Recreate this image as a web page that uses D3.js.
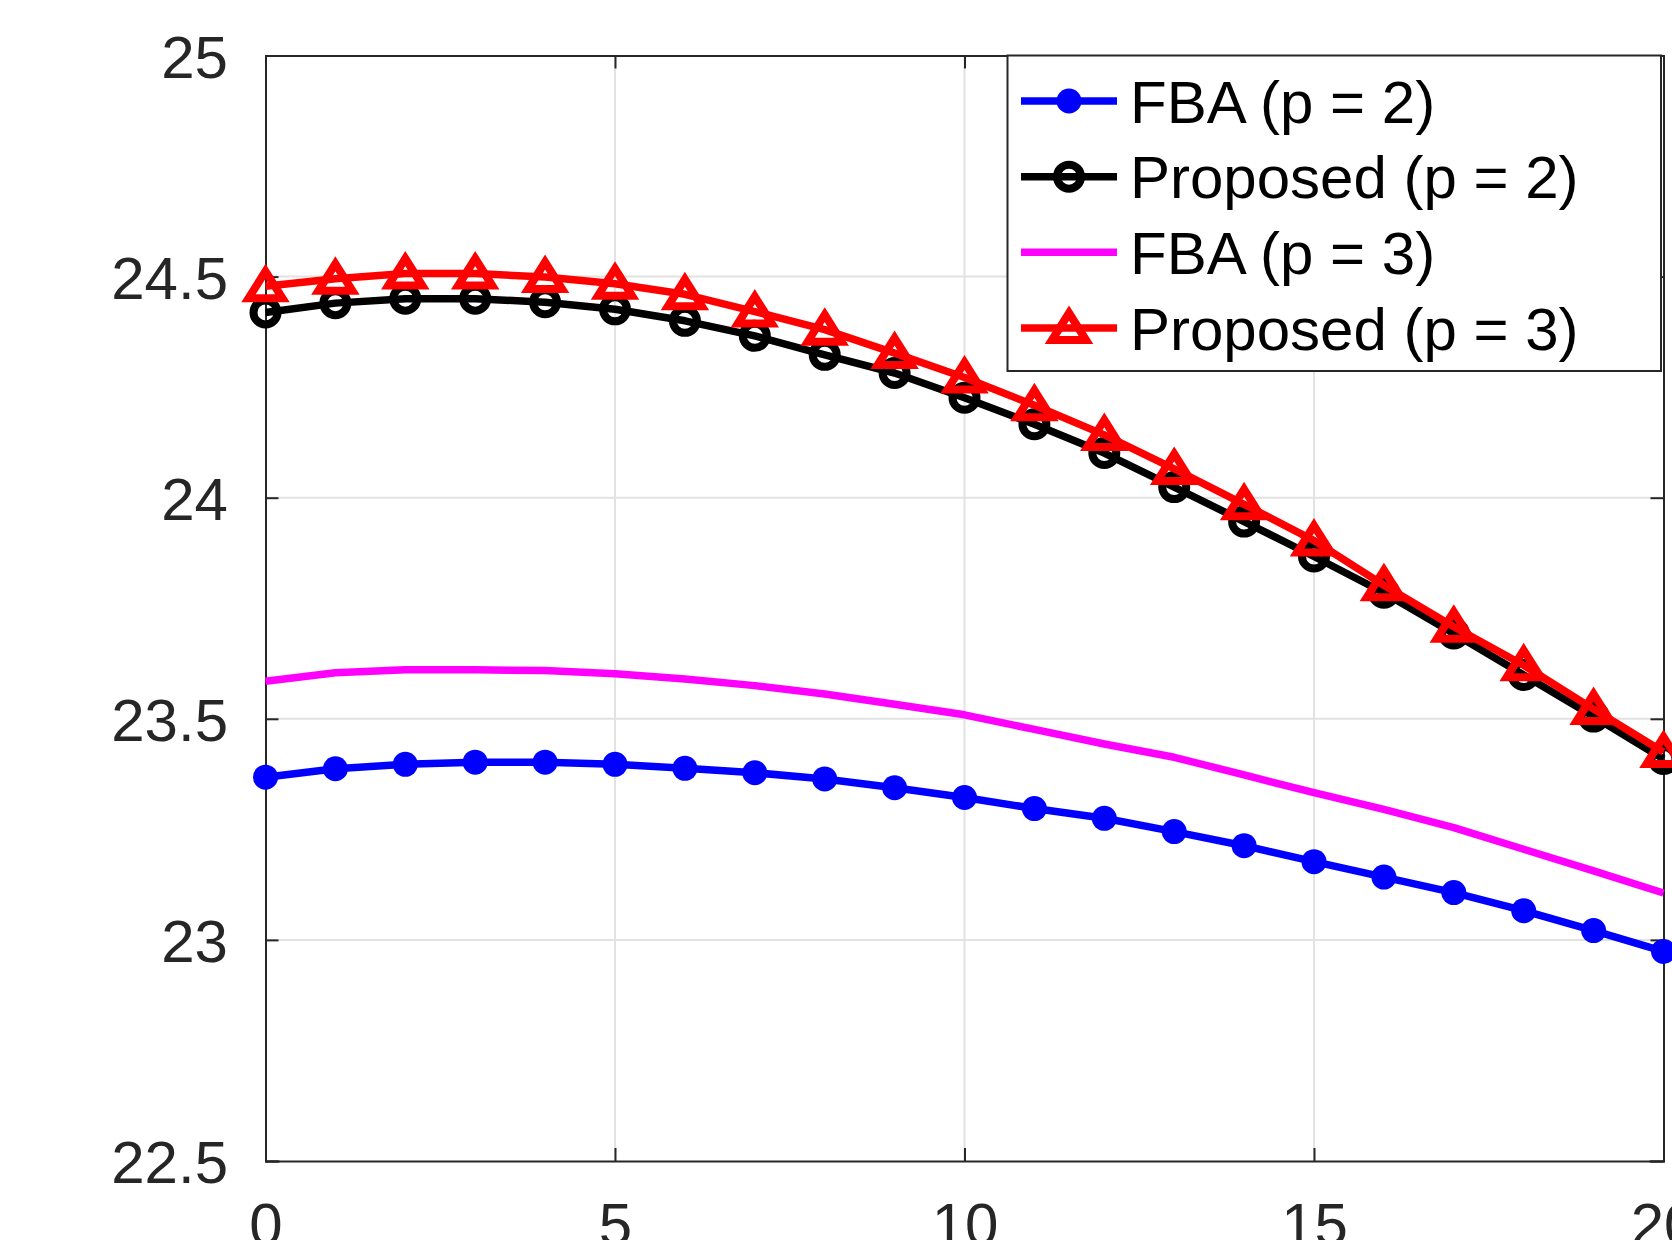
<!DOCTYPE html>
<html>
<head>
<meta charset="utf-8">
<script src="https://cdn.jsdelivr.net/npm/d3@7"></script>
<style>
  html, body { margin: 0; padding: 0; background: #fff; }
  svg { display: block; font-family: "Liberation Sans", Arial, Helvetica, sans-serif; }
</style>
</head>
<body>
<div id="chart"></div>
<script>
// values
const xValues = d3.range(0, 21)

const fbaP2 = [23.368, 23.387, 23.397, 23.402, 23.402, 23.397, 23.388, 23.378, 23.364, 23.344,
  23.322, 23.297, 23.275, 23.245, 23.213, 23.177, 23.142, 23.107, 23.066, 23.021, 22.974]

const proposedP2 = [24.419, 24.440, 24.450, 24.450, 24.442, 24.426, 24.400, 24.366, 24.323, 24.282,
  24.226, 24.166, 24.101, 24.024, 23.946, 23.867, 23.785, 23.693, 23.599, 23.505, 23.409]

const fbaP3 = [23.585, 23.604, 23.611, 23.611, 23.609, 23.602, 23.590, 23.575, 23.556, 23.533,
  23.509, 23.476, 23.443, 23.413, 23.373, 23.333, 23.295, 23.254, 23.205, 23.156, 23.106]

const proposedP3 = [24.478, 24.495, 24.507, 24.507, 24.499, 24.484, 24.460, 24.421, 24.380, 24.327,
  24.272, 24.209, 24.142, 24.065, 23.985, 23.903, 23.802, 23.708, 23.621, 23.522, 23.425]

const xTicks = [0, 5, 10, 15, 20]
const yTicks = [22.5, 23, 23.5, 24, 24.5, 25]

const seriesNames = ["FBA (p = 2)", "Proposed (p = 2)", "FBA (p = 3)", "Proposed (p = 3)"]

const width = 1672
const height = 1240
const margin = { left: 265.5, right: 1663.5, top: 55.5, bottom: 1161 }
const axisColor = "#262626"
const lineWidth = 7.5

const series = [
  { name: seriesNames[0], values: fbaP2, color: "#0000ff", marker: "dot" },
  { name: seriesNames[1], values: proposedP2, color: "#000000", marker: "circle" },
  { name: seriesNames[2], values: fbaP3, color: "#ff00ff", marker: "none" },
  { name: seriesNames[3], values: proposedP3, color: "#ff0000", marker: "triangle" }
]

const x = d3.scaleLinear().domain([0, 20]).range([margin.left, margin.right])
const y = d3.scaleLinear().domain([22.5, 25]).range([margin.bottom, margin.top])

const svg = d3.select("#chart")
  .append("svg")
  .attr("width", width)
  .attr("height", height)

svg.append("rect")
  .attr("width", width)
  .attr("height", height)
  .attr("fill", "#fff")

// grid
const grid = svg.append("g").attr("class", "grid")
grid.selectAll("line.gx")
  .data(xTicks.slice(1, -1))
  .join("line")
  .attr("class", "gx")
  .attr("x1", d => x(d)).attr("x2", d => x(d))
  .attr("y1", margin.top).attr("y2", margin.bottom)
  .attr("stroke", "#e2e2e2")
  .attr("stroke-width", 2)
grid.selectAll("line.gy")
  .data(yTicks.slice(1, -1))
  .join("line")
  .attr("class", "gy")
  .attr("x1", margin.left).attr("x2", margin.right)
  .attr("y1", d => y(d)).attr("y2", d => y(d))
  .attr("stroke", "#e2e2e2")
  .attr("stroke-width", 2)

// axes (box with inward ticks, matlab style)
const bottomAxis = d3.axisBottom(x).tickValues(xTicks).tickSize(-13).tickFormat(d3.format("d"))
const topAxis = d3.axisTop(x).tickValues(xTicks).tickSize(-13).tickFormat("")
const leftAxis = d3.axisLeft(y).tickValues(yTicks).tickSize(-13).tickFormat(d3.format("~g"))
const rightAxis = d3.axisRight(y).tickValues(yTicks).tickSize(-13).tickFormat("")

function styleAxis(g) {
  g.select(".domain").attr("stroke", axisColor).attr("stroke-width", 2)
  g.selectAll(".tick line").attr("stroke", axisColor).attr("stroke-width", 2)
  g.selectAll(".tick text")
    .attr("fill", axisColor)
    .attr("font-size", 60)
    .attr("font-family", "Liberation Sans, Arial, sans-serif")
}

svg.append("g")
  .attr("transform", `translate(0,${margin.bottom})`)
  .call(bottomAxis)
  .call(styleAxis)
  .call(g => g.selectAll(".tick text").attr("dy", null).attr("y", 84))

svg.append("g")
  .attr("transform", `translate(0,${margin.top})`)
  .call(topAxis)
  .call(styleAxis)

svg.append("g")
  .attr("transform", `translate(${margin.left},0)`)
  .call(leftAxis)
  .call(styleAxis)
  .call(g => g.selectAll(".tick text").attr("x", -37.5).attr("dy", "0.36em"))

svg.append("g")
  .attr("transform", `translate(${margin.right},0)`)
  .call(rightAxis)
  .call(styleAxis)

svg.selectAll(".domain").attr("stroke-linecap", "square")

// markers
const triPath = "M0,-15L17,12L-17,12Z"

function drawMarker(sel, s) {
  if (s.marker === "dot") {
    sel.append("circle")
      .attr("r", 12.5)
      .attr("fill", s.color)
  } else if (s.marker === "circle") {
    sel.append("circle")
      .attr("r", 12)
      .attr("fill", "none")
      .attr("stroke", s.color)
      .attr("stroke-width", 8)
  } else if (s.marker === "triangle") {
    sel.append("path")
      .attr("d", triPath)
      .attr("fill", "none")
      .attr("stroke", s.color)
      .attr("stroke-width", 8)
      .attr("stroke-linejoin", "miter")
  }
}

const line = d3.line()
  .x((d, i) => x(xValues[i]))
  .y(d => y(d))

const plot = svg.append("g").attr("class", "series")

series.forEach(s => {
  const g = plot.append("g")
  g.append("path")
    .datum(s.values)
    .attr("d", line)
    .attr("fill", "none")
    .attr("stroke", s.color)
    .attr("stroke-width", lineWidth)
    .attr("stroke-linejoin", "round")

  if (s.marker !== "none") {
    g.selectAll("g.pt")
      .data(s.values)
      .join("g")
      .attr("class", "pt")
      .attr("transform", (d, i) => `translate(${x(xValues[i])},${y(d)})`)
      .each(function() { drawMarker(d3.select(this), s) })
  }
})

// legend
const legend = svg.append("g").attr("class", "legend")
legend.append("rect")
  .attr("x", 1007.5)
  .attr("y", 55.5)
  .attr("width", 653.5)
  .attr("height", 315.5)
  .attr("fill", "#fff")
  .attr("stroke", axisColor)
  .attr("stroke-width", 2)

const rowY = d3.scaleLinear().domain([0, 3]).range([101, 328])

const rows = legend.selectAll("g.item")
  .data(series)
  .join("g")
  .attr("class", "item")
  .attr("transform", (d, i) => `translate(0,${rowY(i)})`)

rows.append("line")
  .attr("x1", 1021).attr("x2", 1117)
  .attr("y1", 0).attr("y2", 0)
  .attr("stroke", d => d.color)
  .attr("stroke-width", lineWidth)

rows.append("g")
  .attr("transform", "translate(1069,0)")
  .each(function(d) { drawMarker(d3.select(this), d) })

rows.append("text")
  .attr("x", 1130)
  .attr("y", 0)
  .attr("dy", "0.36em")
  .attr("font-size", 60)
  .attr("fill", "#000")
  .text(d => d.name)
</script>
</body>
</html>
